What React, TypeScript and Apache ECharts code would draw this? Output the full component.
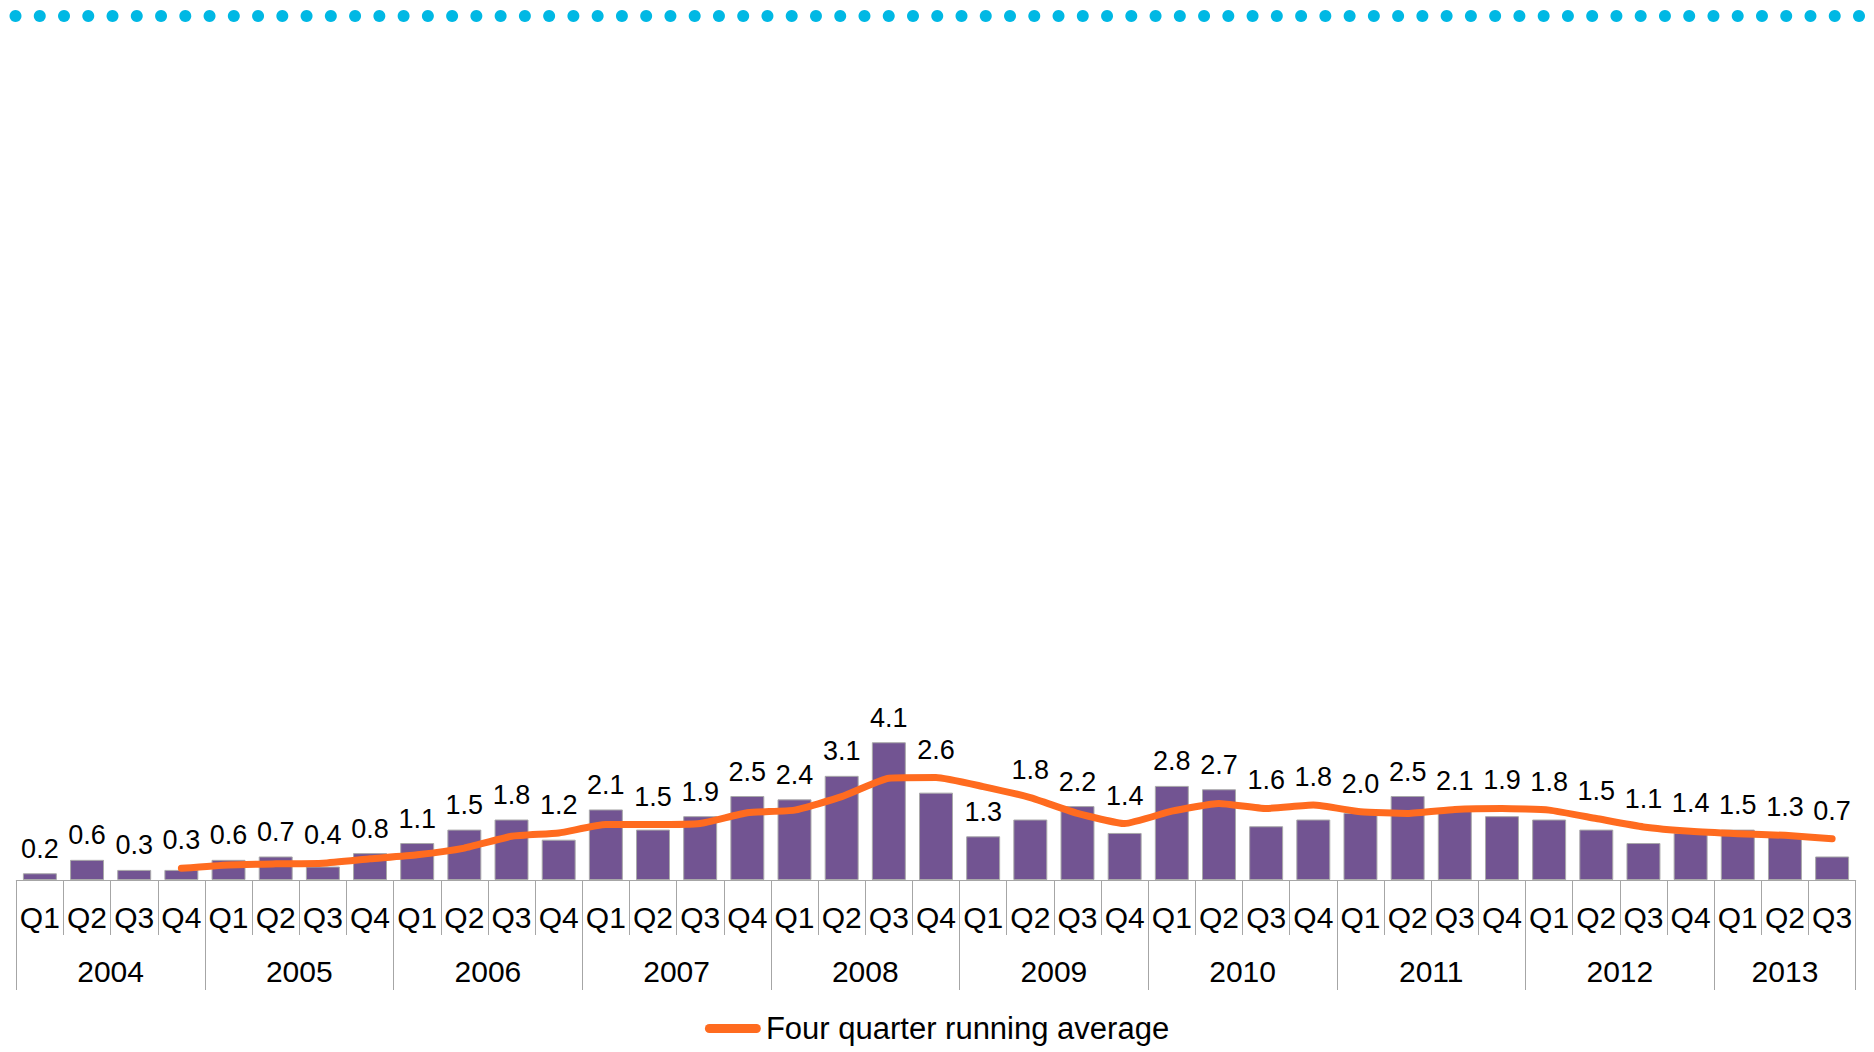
import React, { useEffect, useRef } from "react";
import * as echarts from "echarts";

const years = ["2004", "2005", "2006", "2007", "2008", "2009", "2010", "2011", "2012", "2013"];
const quartersPerYear = [4, 4, 4, 4, 4, 4, 4, 4, 4, 3];
const quarterNames = ["Q1", "Q2", "Q3", "Q4"];

const barValues = [
  0.2, 0.6, 0.3, 0.3,
  0.6, 0.7, 0.4, 0.8,
  1.1, 1.5, 1.8, 1.2,
  2.1, 1.5, 1.9, 2.5,
  2.4, 3.1, 4.1, 2.6,
  1.3, 1.8, 2.2, 1.4,
  2.8, 2.7, 1.6, 1.8,
  2.0, 2.5, 2.1, 1.9,
  1.8, 1.5, 1.1, 1.4,
  1.5, 1.3, 0.7,
];

const runningAverage = [
  null, null, null, 0.35,
  0.45, 0.48, 0.5, 0.63,
  0.75, 0.95, 1.3, 1.4,
  1.65, 1.65, 1.68, 2.0,
  2.08, 2.48, 3.03, 3.05,
  2.78, 2.45, 1.98, 1.68,
  2.05, 2.28, 2.13, 2.23,
  2.03, 1.98, 2.1, 2.13,
  2.08, 1.83, 1.58, 1.45,
  1.38, 1.33, 1.23,
];

const legendName = "Four quarter running average";

const FONT = "'Liberation Sans', Arial, Helvetica, sans-serif";
const PURPLE = "#725492";
const ORANGE = "#FF6B1F";
const AXIS_GRAY = "#A6A6A6";
const CYAN = "#00B8E4";

const GRID_TOP = 712;
const GRID_BOTTOM = 172;
const CHART_H = 1052;
const Y_MAX = 5;
const LINE_W = 7;
const LABEL_CLEARANCE = 41;

export default function App() {
  const ref = useRef<HTMLDivElement>(null);

  useEffect(() => {
    if (!ref.current) return;
    const chart = echarts.init(ref.current, null, { renderer: "svg" });

    const categories: string[] = [];
    quartersPerYear.forEach((n) => {
      for (let i = 0; i < n; i++) categories.push(quarterNames[i]);
    });
    const total = categories.length;

    const boundaries: number[] = [0];
    const centers: number[] = [];
    let acc = 0;
    quartersPerYear.forEach((n) => {
      centers.push(acc + n / 2);
      acc += n;
      boundaries.push(acc);
    });

    const pxPerUnit = (CHART_H - GRID_TOP - GRID_BOTTOM) / Y_MAX;

    // a bar label is raised above the running-average line when the line would run through it
    const barData = barValues.map((v, i) => {
      const avg = runningAverage[i];
      if (avg == null) return { value: v };
      const gap = (avg - v) * pxPerUnit;
      if (gap > -2 && gap < LABEL_CLEARANCE) {
        const lift = Math.max(0, gap + LINE_W / 2);
        return { value: v, label: { offset: [0, -lift] } };
      }
      return { value: v };
    });

    const dots: any[] = [];
    const nDots = 77;
    const x0 = 15.5;
    const x1 = 1859;
    for (let i = 0; i < nDots; i++) {
      dots.push({
        type: "circle",
        shape: { cx: x0 + ((x1 - x0) * i) / (nDots - 1), cy: 16, r: 6 },
        style: { fill: CYAN },
        silent: true,
      });
    }

    chart.setOption({
      animation: false,
      backgroundColor: "#ffffff",
      textStyle: { fontFamily: FONT },
      graphic: dots,
      grid: { left: 16.3, right: 18.3, top: GRID_TOP, bottom: GRID_BOTTOM, containLabel: false },
      legend: {
        top: 1008,
        left: "center",
        itemWidth: 56,
        itemHeight: 9,
        itemGap: 10,
        textStyle: { fontSize: 31, color: "#000", fontFamily: FONT },
        data: [
          {
            name: legendName,
            icon: "path://M4.5,0 L51.5,0 A4.5,4.5 0 0 1 51.5,9 L4.5,9 A4.5,4.5 0 0 1 4.5,0 Z",
            itemStyle: { color: ORANGE, borderWidth: 0 },
          },
        ],
        selectedMode: false,
      },
      xAxis: [
        {
          type: "category",
          position: "bottom",
          data: categories,
          boundaryGap: true,
          axisLine: { show: true, lineStyle: { color: AXIS_GRAY, width: 1 } },
          axisTick: { show: true, interval: 0, length: 55, lineStyle: { color: AXIS_GRAY, width: 1 } },
          axisLabel: { interval: 0, fontSize: 30, color: "#000", margin: 22, fontFamily: FONT },
          splitLine: { show: false },
        },
        {
          type: "value",
          position: "bottom",
          min: 0,
          max: total,
          axisLine: { show: false },
          axisTick: {
            show: true,
            customValues: boundaries,
            length: 110,
            lineStyle: { color: AXIS_GRAY, width: 1 },
          },
          axisLabel: {
            show: true,
            customValues: centers,
            margin: 76,
            fontSize: 30,
            color: "#000",
            fontFamily: FONT,
            formatter: (v: number) => {
              const idx = centers.findIndex((c) => Math.abs(c - v) < 1e-6);
              return idx >= 0 ? years[idx] : "";
            },
          },
          splitLine: { show: false },
        },
      ],
      yAxis: {
        type: "value",
        min: 0,
        max: Y_MAX,
        show: false,
        splitLine: { show: false },
      },
      series: [
        {
          name: "Quarterly",
          type: "bar",
          xAxisIndex: 0,
          data: barData,
          barCategoryGap: "28%",
          itemStyle: { color: PURPLE, borderColor: "#A9A9A9", borderWidth: 1 },
          label: {
            show: true,
            position: "top",
            distance: 11,
            fontSize: 27,
            color: "#000",
            fontFamily: FONT,
            formatter: (p: any) => Number(p.value).toFixed(1),
          },
        },
        {
          name: legendName,
          type: "line",
          xAxisIndex: 0,
          data: runningAverage,
          smooth: 0.15,
          showSymbol: false,
          symbol: "none",
          connectNulls: false,
          lineStyle: { color: ORANGE, width: LINE_W, cap: "round", join: "round" },
          itemStyle: { color: ORANGE },
          z: 3,
        },
      ],
    });

    return () => chart.dispose();
  }, []);

  return (
    <div
      ref={ref}
      style={{ position: "fixed", left: 0, top: 0, width: "1874px", height: "1052px", background: "#fff" }}
    />
  );
}
